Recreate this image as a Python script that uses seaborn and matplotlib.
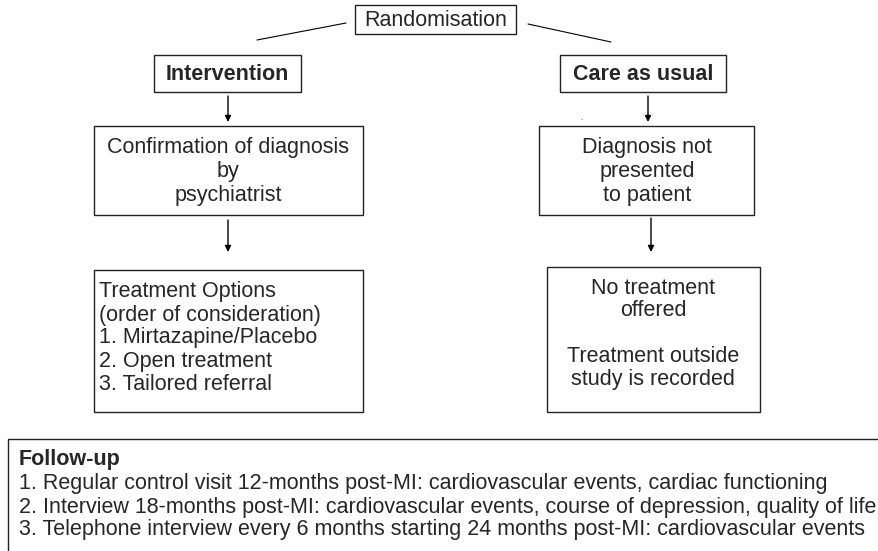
import matplotlib.pyplot as plt
import seaborn as sns
from matplotlib.patches import Rectangle

sns.set_theme(style="white")
plt.rcParams['font.family'] = ['Liberation Sans', 'DejaVu Sans']

# Flowchart text content
top_label = "Randomisation"
arm_labels = ["Intervention", "Care as usual"]
step_two_lines = [["Confirmation of diagnosis", "by", "psychiatrist"],
                  ["Diagnosis not", "presented", "to patient"]]
treatment_lines = ["Treatment Options", "(order of consideration)",
                   "1. Mirtazapine/Placebo", "2. Open treatment",
                   "3. Tailored referral"]
usual_lines = ["No treatment", "offered", "", "Treatment outside",
               "study is recorded"]
followup_title = "Follow-up"
followup_lines = [
    "1. Regular control visit 12-months post-MI: cardiovascular events, cardiac functioning",
    "2. Interview 18-months post-MI: cardiovascular events, course of depression, quality of life",
    "3. Telephone interview every 6 months starting 24 months post-MI: cardiovascular events",
]

W, H = 879, 551
fig = plt.figure(figsize=(W / 100, H / 100), dpi=100)
ax = fig.add_axes([0, 0, 1, 1])
ax.set_xlim(0, W)
ax.set_ylim(H, 0)
ax.axis('off')

fs = 15.5


def box(x0, y0, x1, y1):
    ax.add_patch(Rectangle((x0, y0), x1 - x0, y1 - y0, fill=False,
                           edgecolor='#222222', lw=1.0))


def arrow(x, y0, y1):
    ax.annotate("", xy=(x, y1), xytext=(x, y0),
                arrowprops=dict(arrowstyle='-|>', color='black', lw=1.0,
                                mutation_scale=9, shrinkA=0, shrinkB=0))


# top
box(355, 5, 516, 34)
ax.text(435.5, 20, top_label, ha='center', va='center', fontsize=fs)
ax.plot([257, 346], [40, 23], color='black', lw=0.8)
ax.plot([528, 611], [24, 42], color='black', lw=0.8)

# arms
box(154, 55, 301, 92)
ax.text(227.5, 74, arm_labels[0], ha='center', va='center', fontsize=fs,
        fontweight='bold')
box(560, 55, 726, 92)
ax.text(643, 74, arm_labels[1], ha='center', va='center', fontsize=fs,
        fontweight='bold')

arrow(228, 96, 122)
arrow(648, 96, 122)
ax.text(581, 119, ".", ha='center', va='center', fontsize=6)

# second level
box(94, 126, 363, 215)
for i, t in enumerate(step_two_lines[0]):
    ax.text(228, 148 + i * 24, t, ha='center', va='center', fontsize=fs)
box(539, 126, 754, 215)
for i, t in enumerate(step_two_lines[1]):
    ax.text(647, 148 + i * 24, t, ha='center', va='center', fontsize=fs)

arrow(228, 220, 252)
arrow(651, 218, 252)

# third level
box(94, 270, 363, 412)
for i, t in enumerate(treatment_lines):
    ax.text(99, 292 + i * 23, t, ha='left', va='center', fontsize=fs)
box(547, 267, 760, 412)
for i, t in enumerate(usual_lines):
    ax.text(653, 288 + i * 23, t, ha='center', va='center', fontsize=fs)

# follow-up
box(8, 439, 900, 560)
ax.text(19, 459, followup_title, ha='left', va='center', fontsize=fs,
        fontweight='bold')
for i, t in enumerate(followup_lines):
    ax.text(19, 484 + i * 23, t, ha='left', va='center', fontsize=fs)

fig.savefig('out.png', dpi=100, facecolor='white')
